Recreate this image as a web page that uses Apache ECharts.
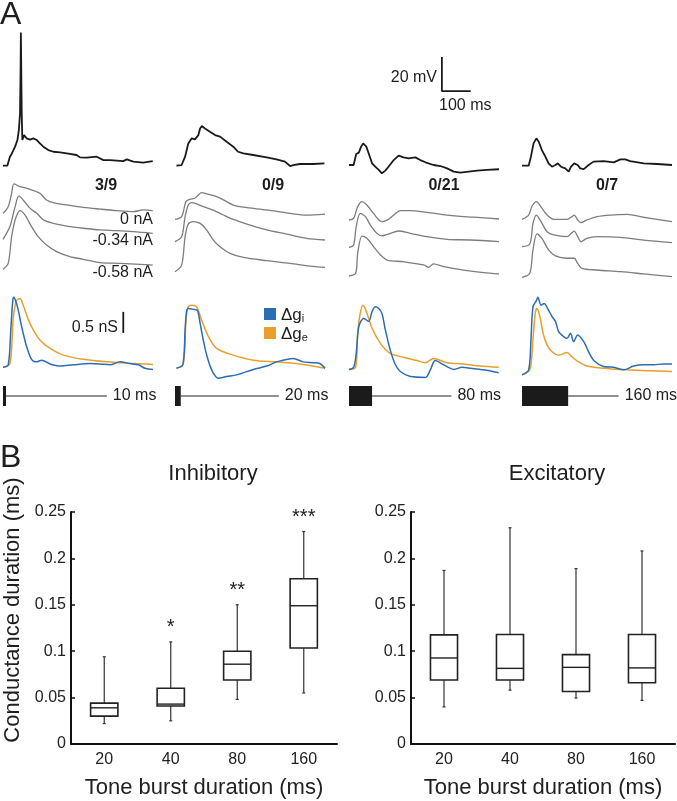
<!DOCTYPE html>
<html><head><meta charset="utf-8">
<script src="https://cdn.jsdelivr.net/npm/echarts@6/dist/echarts.min.js"></script>
<style>html,body{margin:0;padding:0;background:#fff}#c{width:677px;height:801px}</style>
</head><body><div id="c"></div>
<script>
// ================= DATA =================
const stimDurations = [10, 20, 80, 160];            // ms
const stimLineEnds = [360, 360, 355, 335];          // ms (end of stimulus baseline)
const spikeRatios = ['3/9', '0/9', '0/21', '0/7'];
const holdingCurrents = ['0 nA', '-0.34 nA', '-0.58 nA'];
const scaleBarMV = 20, scaleBarMS = 100, scaleBarNS = 0.5;

// membrane potential (time ms, ΔV mV), 0 nA, single trial
const vm10 = [[0,0],[15,0],[24,5.3],[30,6.9],[36,6.3],[42,11.2],[50,15.1],[55,21],[59,30.8],[61,58],[62,78.4],[64,45],[65,30],[67,15.1],[73,18],[82,16.1],[94,15.3],[105,16.1],[117,15.1],[128,13.1],[140,11.2],[157,9.2],[175,8.2],[198,7.8],[221,7.3],[255,6.3],[267,4.9],[290,4.7],[325,5.3],[348,3.3],[371,3.3],[417,2.7],[429,3.7],[452,2.4],[486,1.8],[519,2.7]];
const vm20 = [[5,0],[23,0.4],[35,5.3],[46,13.1],[58,16.1],[69,15.5],[81,18],[87,21.9],[93,23.3],[104,21.9],[121,20],[139,18],[156,17.1],[179,14.1],[202,11.2],[219,8.2],[237,7.3],[271,6.3],[318,4.9],[352,3.7],[381,2.4],[399,-0.2],[410,0.4],[433,1],[479,1],[518,1.4]];
const vm80 = [[0,0],[16,0],[25,6.5],[34,7.3],[42,10.8],[49,12.7],[60,10.8],[68,6.9],[80,1],[91,-1],[103,-2.9],[114,-4.9],[126,-3.3],[137,-1],[155,2.9],[172,5.5],[189,4.5],[207,3.9],[230,4.5],[247,2.9],[265,1.6],[293,0],[317,-0.6],[340,-2],[363,-3.9],[386,-4.5],[415,-3.9],[444,-3.3],[478,-2.9],[520,-2.5]];
const vm160 = [[0,0],[23,0],[31,5.3],[40,13.1],[50,16.1],[58,14.1],[69,9.2],[81,5.3],[92,1.4],[104,-0.6],[116,0.4],[124,1.4],[135,-0.6],[150,-1.6],[162,-3.5],[170,-0.6],[181,1.4],[193,0.4],[202,-1.6],[214,-2],[231,0.4],[248,2.4],[283,2.7],[318,2],[341,3.7],[358,3.7],[375,2.7],[422,1.4],[468,1],[520,0.4]];

// averaged responses at three holding currents (time ms, ΔV mV)
const avg10 = [
  [[0,0],[18,3.9],[30,11.8],[38,17.3],[59,15.7],[94,14.1],[128,11.8],[151,7.8],[174,6.3],[221,4.9],[278,3.5],[336,2.5],[394,1.6],[452,1],[486,2],[519,1.6]],
  [[0,0],[24,7.5],[42,19.2],[55,25.5],[70,23.1],[94,18.2],[117,15.3],[140,11.4],[174,9.4],[221,7.8],[278,6.5],[336,5.5],[394,5.1],[452,4.5],[519,3.5]],
  [[0,0],[18,3.5],[30,19.2],[42,29],[59,34.5],[76,32],[99,25.1],[122,19.2],[151,14.3],[186,10.4],[232,7.5],[278,5.9],[336,3.9],[405,3.5],[475,2.9],[519,2.5]]
];
const avg20 = [
  [[0,0],[23,1.6],[38,10.4],[52,11.8],[69,12.4],[81,14.3],[92,15.7],[110,14.9],[144,13.3],[179,10.4],[202,8.4],[237,7.1],[318,5.5],[399,3.5],[456,2.5],[520,3.1]],
  [[0,0],[23,2.9],[35,14.7],[46,21.6],[58,23],[75,22.2],[98,20.6],[133,18.6],[168,15.7],[202,13.1],[260,9.8],[318,6.9],[387,4.5],[456,2],[520,1]],
  [[0,0],[23,3.9],[35,20.6],[46,28],[64,29.4],[87,28.4],[110,24.5],[133,18.6],[156,14.7],[191,10.8],[237,8.4],[318,6.5],[399,4.9],[468,3.3],[520,2.5]]
];
const avg80 = [
  [[0,0],[16,1],[30,7.8],[45,10.8],[62,8.8],[85,3.9],[114,-1],[137,0.4],[155,2.9],[178,5.5],[213,5.5],[270,4.5],[340,2.9],[397,2],[455,1.4],[520,0.6]],
  [[0,0],[16,1.4],[25,12.2],[39,20],[57,18],[74,13.1],[97,8.2],[114,6.7],[137,7.8],[172,9.6],[213,8.2],[270,6.3],[340,4.7],[421,4.3],[520,3.3]],
  [[0,0],[23,1.6],[30,13.3],[45,23.5],[62,22.2],[85,17.3],[109,12.4],[132,9.4],[189,8.4],[259,6.5],[276,5.1],[293,7.1],[328,5.5],[397,3.5],[467,2],[520,1.2]]
];
const avg160 = [
  [[0,0],[23,2.5],[35,7.8],[50,10.4],[66,7.3],[87,2.5],[110,0],[156,0],[173,1.6],[181,2.5],[193,-0.4],[204,-2],[225,-0.4],[260,1.6],[306,2.5],[364,2.9],[422,1.2],[468,0],[520,-1.4]],
  [[0,0],[27,1.6],[38,13.7],[50,18.6],[66,14.7],[87,8.8],[110,6.9],[156,5.9],[173,8.2],[181,9.2],[193,5.9],[204,2.9],[225,4.9],[260,5.9],[341,5.5],[422,3.9],[520,2.4]],
  [[0,0],[27,2.4],[38,16.1],[52,25.5],[69,22.9],[92,16.1],[116,12.6],[156,11.2],[181,11.2],[193,8.2],[208,5.3],[260,4.3],[341,3.3],[422,2],[520,0.4]]
];

// conductances (time ms, nS)
const gi10 = [[0,0.04],[18,0.1],[27,0.93],[34,1.64],[38,1.71],[45,1.6],[53,1.4],[61,1.13],[70,0.85],[82,0.53],[99,0.23],[117,0.17],[134,0.21],[163,0.12],[198,0.07],[244,0.1],[302,0.13],[336,0.12],[371,0.1],[406,0.17],[440,0.13],[469,0.1],[492,0.02],[520,-0.01]];
const ge10 = [[0,0.04],[24,0.13],[36,1.25],[47,1.63],[59,1.68],[70,1.52],[88,1.17],[105,0.93],[128,0.69],[163,0.49],[209,0.33],[278,0.23],[359,0.17],[452,0.13],[520,0.11]];
const gi20 = [[5,0.02],[27,0.1],[35,0.93],[40,1.37],[46,1.44],[64,1.42],[78,1.39],[87,1.09],[98,0.69],[110,0.33],[127,-0.02],[150,-0.22],[179,-0.18],[214,-0.14],[272,-0.01],[318,0.07],[352,0.17],[375,0.21],[410,0.25],[444,0.17],[479,0.15],[502,0.13],[520,0.02]];
const ge20 = [[5,0.02],[29,0.13],[38,1.17],[46,1.48],[58,1.52],[75,1.48],[92,1.17],[116,0.77],[144,0.49],[202,0.33],[272,0.21],[352,0.17],[433,0.12],[520,0.02]];
const gi80 = [[0,-0.01],[16,0.04],[25,0.37],[34,1.01],[51,1.21],[68,1.13],[80,1.37],[91,1.48],[103,1.44],[114,1.33],[126,0.93],[143,0.45],[161,0.1],[178,-0.06],[213,-0.18],[265,-0.2],[282,-0.02],[299,0.2],[328,0.1],[363,-0.01],[392,0.04],[421,0.02],[467,-0.02],[519,-0.09]];
const ge80 = [[0,-0.01],[23,0.04],[30,0.85],[39,1.33],[49,1.52],[62,1.33],[80,0.97],[109,0.61],[143,0.37],[189,0.28],[236,0.2],[265,0.15],[293,0.25],[340,0.15],[397,0.12],[455,0.07],[519,0.04]];
const gi160 = [[0,-0.14],[23,-0.02],[31,0.69],[38,1.48],[50,1.63],[55,1.71],[66,1.52],[77,1.56],[89,1.44],[104,1.25],[116,1.13],[127,0.89],[144,0.77],[156,0.73],[168,0.85],[179,0.65],[193,0.81],[214,0.65],[231,0.41],[248,0.21],[283,0.06],[318,0.04],[353,-0.02],[387,0.07],[422,0.1],[456,0.1],[491,0.12],[520,0.12]];
const ge160 = [[0,-0.14],[27,-0.02],[38,0.69],[46,1.33],[52,1.44],[62,1.25],[73,0.85],[87,0.57],[104,0.41],[127,0.33],[156,0.39],[173,0.29],[196,0.17],[225,0.07],[283,0.02],[364,-0.02],[445,-0.04],[520,-0.06]];

// panel B box plots (conductance duration)
const toneCategories = ['20', '40', '80', '160'];
const inhibMin = [0.022, 0.025, 0.048, 0.055];
const inhibQ1  = [0.030, 0.041, 0.069, 0.1035];
const inhibMed = [0.039, 0.043, 0.086, 0.149];
const inhibQ3  = [0.044, 0.060, 0.100, 0.178];
const inhibMax = [0.094, 0.110, 0.150, 0.229];
const inhibStars = ['', '*', '**', '***'];
const excitMin = [0.040, 0.058, 0.0495, 0.047];
const excitQ1  = [0.069, 0.069, 0.0566, 0.066];
const excitMed = [0.0927, 0.0815, 0.0826, 0.082];
const excitQ3  = [0.1176, 0.118, 0.0963, 0.118];
const excitMax = [0.187, 0.233, 0.189, 0.208];
const excitStars = ['', '', '', ''];
const yTicks = [0, 0.05, 0.1, 0.15, 0.2, 0.25];

// ================= LAYOUT / STYLE =================
const FONT = '"Liberation Sans", Arial, Helvetica, sans-serif';
const BLUE = '#2a6db5', ORANGE = '#e89f2c', GRAY = '#7d7d7d', INK = '#1a1a1a';
const colX = [3, 175, 349, 522];
const T_MAX = 520, COL_W = 150;
const PX_MV = 1.7, PX_NS = 42;
const vmBase = [165.7, 165.7, 165, 165.7];
const avgBase = [[213.3,239.3,269.3],[219.3,241.7,271.7],[220,247.3,276],[219.3,246.7,277.3]];
const gBase = 369;
const stimTop = 386, stimH = 20, stimMid = 396;

const grid = [], xAxis = [], yAxis = [], series = [];
function addGrid(left, top, width, height, xmin, xmax, ymin, ymax) {
  grid.push({left, top, width, height});
  const i = grid.length - 1;
  xAxis.push({gridIndex: i, type: 'value', min: xmin, max: xmax, show: false});
  yAxis.push({gridIndex: i, type: 'value', min: ymin, max: ymax, show: false});
  return i;
}
function traceGrid(col, base, pxUnit, ymin, ymax) {
  return addGrid(colX[col], base - ymax * pxUnit, COL_W, (ymax - ymin) * pxUnit, 0, T_MAX, ymin, ymax);
}
function line(gi, data, color, width, smooth, name) {
  const s = {type: 'line', xAxisIndex: gi, yAxisIndex: gi, data, showSymbol: false, symbol: 'none',
    smooth: smooth || false, clip: false, silent: true, color,
    lineStyle: {color, width}};
  if (name) s.name = name;
  series.push(s);
}

const vmTraces = [vm10, vm20, vm80, vm160];
const avgTraces = [avg10, avg20, avg80, avg160];
const giTraces = [gi10, gi20, gi80, gi160];
const geTraces = [ge10, ge20, ge80, ge160];

for (let c = 0; c < 4; c++) {
  const vg = traceGrid(c, vmBase[c], PX_MV, -30, 90);
  line(vg, vmTraces[c], INK, 1.8, false);
  if (c === 2) {
    // 20 mV / 100 ms scale bar
    const t0 = 322, v0 = 43.5;
    line(vg, [[t0, v0 + scaleBarMV], [t0, v0], [t0 + scaleBarMS, v0]], INK, 1.8, false);
  }
  for (let k = 0; k < 3; k++) {
    const ag = traceGrid(c, avgBase[c][k], PX_MV, -30, 90);
    line(ag, avgTraces[c][k], GRAY, 1.3, 0.3);
  }
  const gg = traceGrid(c, gBase, PX_NS, -0.5, 2.0);
  line(gg, geTraces[c], ORANGE, 1.5, 0.3, 'ge');
  line(gg, giTraces[c], BLUE, 1.5, 0.3, 'gi');
  if (c === 0) {
    const t0 = 417, g0 = 0.86;
    line(gg, [[t0, g0], [t0, g0 + scaleBarNS]], INK, 1.8, false);
  }
  // stimulus
  const sg = addGrid(colX[c], stimTop, COL_W, stimH, 0, T_MAX, -1, 1);
  series.push({
    type: 'custom', xAxisIndex: sg, yAxisIndex: sg, silent: true, clip: false,
    data: [[stimDurations[c], stimLineEnds[c]]],
    renderItem: function (params, api) {
      const dur = api.value(0), end = api.value(1);
      const a = api.coord([0, 1]), b = api.coord([dur, -1]);
      const l0 = api.coord([dur, 0]), l1 = api.coord([end, 0]);
      return {type: 'group', children: [
        {type: 'rect', shape: {x: a[0], y: a[1], width: Math.max(b[0] - a[0], 3), height: b[1] - a[1]}, style: {fill: '#1b1b1b'}},
        {type: 'line', shape: {x1: l0[0], y1: l0[1], x2: l1[0], y2: l1[1]}, style: {stroke: '#222', lineWidth: 1}},
        {type: 'text', x: l1[0] + 6, y: l1[1], style: {text: dur + ' ms', fontSize: 16, fontFamily: FONT, fill: '#222', align: 'left', verticalAlign: 'middle'}}
      ]};
    }
  });
}

// ---- Panel B ----
function boxRender(stars) {
  return function (params, api) {
    const i = api.value(0);
    const pMin = api.coord([i, api.value(1)]), pQ1 = api.coord([i, api.value(2)]),
          pMed = api.coord([i, api.value(3)]), pQ3 = api.coord([i, api.value(4)]),
          pMax = api.coord([i, api.value(5)]);
    const bw = api.size([1, 0])[0] * 0.41;
    const cx = pMed[0], cap = 1.5;
    const wst = {stroke: '#333', lineWidth: 1.2};
    const ch = [
      {type: 'line', shape: {x1: cx, y1: pQ3[1], x2: cx, y2: pMax[1]}, style: wst},
      {type: 'line', shape: {x1: cx, y1: pQ1[1], x2: cx, y2: pMin[1]}, style: wst},
      {type: 'line', shape: {x1: cx - cap, y1: pMax[1], x2: cx + cap, y2: pMax[1]}, style: wst},
      {type: 'line', shape: {x1: cx - cap, y1: pMin[1], x2: cx + cap, y2: pMin[1]}, style: wst},
      {type: 'rect', shape: {x: cx - bw / 2, y: pQ3[1], width: bw, height: pQ1[1] - pQ3[1]}, style: {fill: '#fff', stroke: '#222', lineWidth: 1.6}},
      {type: 'line', shape: {x1: cx - bw / 2, y1: pMed[1], x2: cx + bw / 2, y2: pMed[1]}, style: {stroke: '#222', lineWidth: 1.4}}
    ];
    if (stars[i]) ch.push({type: 'text', x: cx, y: pMax[1] - 14, style: {text: stars[i], fontSize: 20, fontFamily: FONT, fill: '#222', align: 'center', verticalAlign: 'middle'}});
    return {type: 'group', children: ch};
  };
}
function boxPanel(left, width, mins, q1, med, q3, maxs, stars) {
  grid.push({left, top: 512, width, height: 232});
  const i = grid.length - 1;
  xAxis.push({gridIndex: i, type: 'category', data: toneCategories,
    axisLine: {lineStyle: {color: '#111', width: 2}}, axisTick: {show: false},
    axisLabel: {fontSize: 16, color: '#222', fontFamily: FONT, margin: 8},
    name: 'Tone burst duration (ms)', nameLocation: 'middle', nameGap: 33,
    nameTextStyle: {fontSize: 22, color: '#222', fontFamily: FONT}});
  yAxis.push({gridIndex: i, type: 'value', min: yTicks[0], max: yTicks[yTicks.length - 1], interval: yTicks[1] - yTicks[0],
    axisLine: {show: true, lineStyle: {color: '#111', width: 2}},
    axisTick: {show: true, inside: true, length: 4, lineStyle: {color: '#111', width: 1.5}},
    splitLine: {show: false},
    axisLabel: {fontSize: 16, color: '#222', fontFamily: FONT, margin: 5, formatter: v => String(+v.toFixed(2))}});
  series.push({type: 'custom', xAxisIndex: i, yAxisIndex: i, silent: true,
    data: toneCategories.map((c, k) => [k, mins[k], q1[k], med[k], q3[k], maxs[k]]),
    encode: {x: 0, y: [1, 2, 3, 4, 5]},
    renderItem: boxRender(stars)});
}
boxPanel(71, 266, inhibMin, inhibQ1, inhibMed, inhibQ3, inhibMax, inhibStars);
boxPanel(411, 264, excitMin, excitQ1, excitMed, excitQ3, excitMax, excitStars);

// ---- annotation texts ----
function txt(text, x, y, size, align, extra) {
  return Object.assign({type: 'text', x, y, silent: true,
    style: Object.assign({text, fontSize: size, fontFamily: FONT, fill: '#1e1e1e', align: align || 'left', verticalAlign: 'middle'}, (extra && extra.style) || {})},
    extra && extra.el || {});
}
const spikeX = [106, 273, 444, 607];
const currentY = [220, 241, 272.5];
const elements = [
  txt('A', 0, 15.5, 32, 'left'),
  txt('B', 0, 458, 32, 'left'),
  txt('20 mV', 437, 77.5, 16, 'right'),
  txt('100 ms', 439, 105.5, 16, 'left'),
  txt('0.5 nS', 118, 328, 16, 'right'),
  txt('Inhibitory', 213, 474, 22, 'center'),
  txt('Excitatory', 557, 474, 22, 'center'),
  txt('Conductance duration (ms)', 13, 610, 22, 'center', {el: {rotation: Math.PI / 2}})
];
spikeRatios.forEach((s, c) => elements.push(txt(s, spikeX[c], 185.5, 16, 'center', {style: {fontWeight: 'bold'}})));
holdingCurrents.forEach((s, k) => elements.push(txt(s, 153, currentY[k], 16, 'right')));

const option = {
  animation: false,
  backgroundColor: '#fff',
  grid, xAxis, yAxis, series,
  legend: {
    data: ['gi', 'ge'], orient: 'vertical', left: 259, top: 302,
    itemWidth: 12, itemHeight: 12, itemGap: 2, icon: 'rect', selectedMode: false,
    formatter: n => n === 'gi' ? '{a|Δg}{s|i}' : '{a|Δg}{s|e}',
    textStyle: {rich: {
      a: {fontSize: 17, fontFamily: FONT, color: '#1e1e1e', lineHeight: 20, verticalAlign: 'bottom'},
      s: {fontSize: 11, fontFamily: FONT, color: '#1e1e1e', lineHeight: 11, verticalAlign: 'bottom'}
    }}
  },
  graphic: {elements}
};
const chart = echarts.init(document.getElementById('c'));
chart.setOption(option);
</script></body></html>
